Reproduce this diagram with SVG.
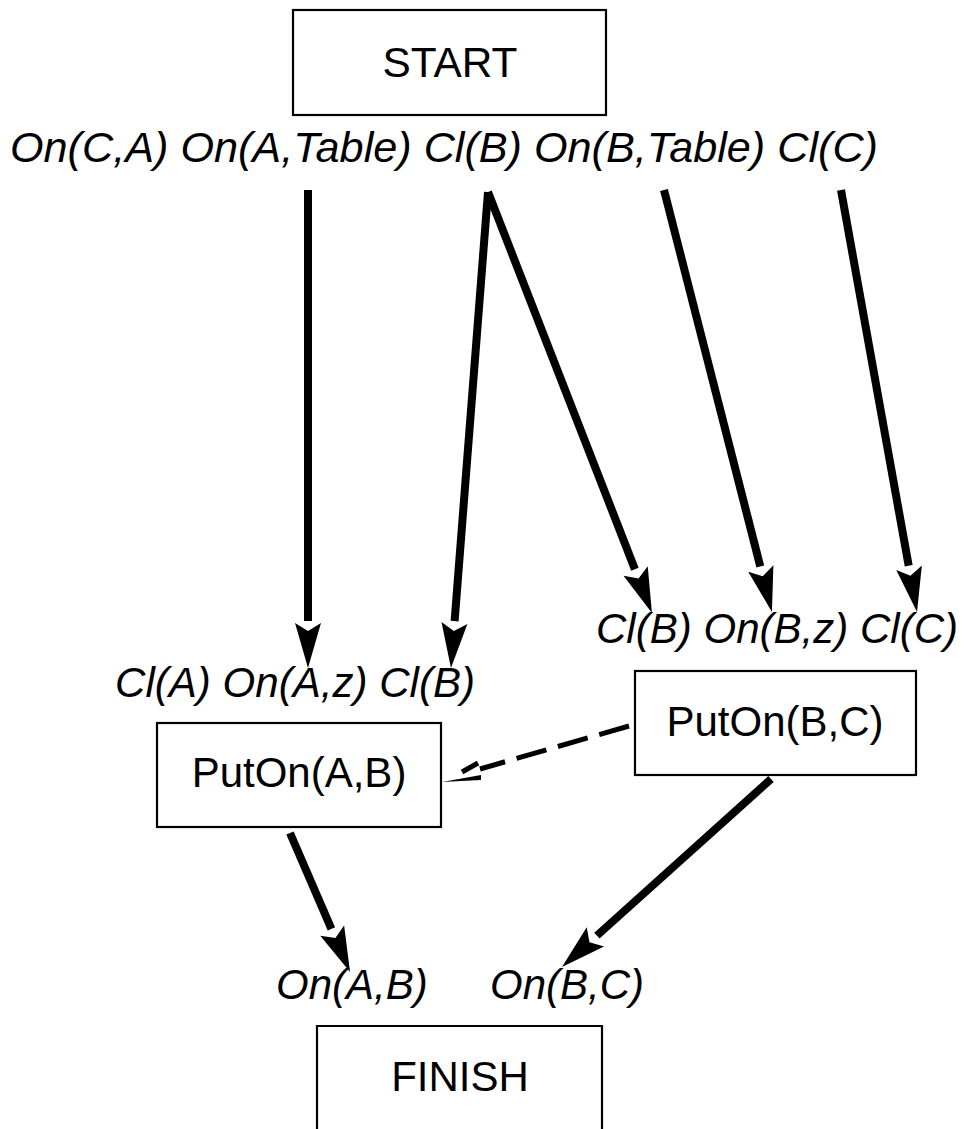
<svg xmlns="http://www.w3.org/2000/svg" width="964" height="1129" viewBox="0 0 964 1129">
<style>
.box{fill:#fff;stroke:#000;stroke-width:2.2}
.nt{font-family:"Liberation Sans",Arial,sans-serif;font-size:42px;fill:#000;text-anchor:middle}
.lb{font-family:"Liberation Sans",Arial,sans-serif;font-size:42px;font-style:italic;fill:#000}
.sh{stroke:#000;stroke-width:8;fill:none}
.dash{stroke:#000;stroke-width:5;fill:none;stroke-dasharray:31 12}
</style>
<defs>
<marker id="ah" markerUnits="userSpaceOnUse" viewBox="-5 -15 60 30" markerWidth="60" markerHeight="30" refX="0" refY="0" orient="auto" overflow="visible">
<path d="M2,-13 L47,0 L2,13 L10,0 Z" fill="#000"/>
</marker>
</defs>
<rect width="964" height="1129" fill="#fff"/>
<g id="start">
<rect class="box" x="293" y="10" width="313" height="105"/>
<text class="nt" x="450" y="77" font-size="44" textLength="135" lengthAdjust="spacingAndGlyphs">START</text>
<text class="lb" x="10" y="162" font-size="43" textLength="868" lengthAdjust="spacingAndGlyphs">On(C,A) On(A,Table) Cl(B) On(B,Table) Cl(C)</text>
</g>
<g id="putonAB">
<text class="lb" x="115" y="697" textLength="360" lengthAdjust="spacingAndGlyphs">Cl(A) On(A,z) Cl(B)</text>
<rect class="box" x="157" y="723" width="284" height="104"/>
<text class="nt" x="299" y="787">PutOn(A,B)</text>
</g>
<g id="putonBC">
<text class="lb" x="596" y="643" textLength="362" lengthAdjust="spacingAndGlyphs">Cl(B) On(B,z) Cl(C)</text>
<rect class="box" x="635" y="671" width="281" height="104"/>
<text class="nt" x="775" y="736">PutOn(B,C)</text>
</g>
<g id="finish">
<text class="lb" x="276" y="999" font-size="41">On(A,B)</text>
<text class="lb" x="490" y="999" font-size="41">On(B,C)</text>
<path class="box" d="M317,1129 V1026 H602 V1129" fill="none"/>
<text class="nt" x="460" y="1091" font-size="43">FINISH</text>
</g>
<g id="connectors">
<line class="sh" x1="308" y1="190" x2="308" y2="621" marker-end="url(#ah)"/>
<line class="sh" x1="488" y1="192" x2="454.6" y2="621.1" marker-end="url(#ah)"/>
<line class="sh" x1="488" y1="192" x2="634.9" y2="569.2" marker-end="url(#ah)"/>
<line class="sh" x1="664" y1="190" x2="760.3" y2="566.5" marker-end="url(#ah)"/>
<line class="sh" x1="841" y1="190" x2="908.7" y2="565.8" marker-end="url(#ah)"/>
<line class="sh" x1="290" y1="833" x2="331.4" y2="928.8" marker-end="url(#ah)"/>
<line class="sh" x1="771" y1="779" x2="596.9" y2="935.6" marker-end="url(#ah)"/>
<line class="dash" x1="629" y1="726" x2="480" y2="769"/>
<path d="M442,782 L481,775 L481,780 Z" fill="#000"/>
<line x1="462" y1="772" x2="478" y2="763" stroke="#000" stroke-width="5"/>
</g>
</svg>
